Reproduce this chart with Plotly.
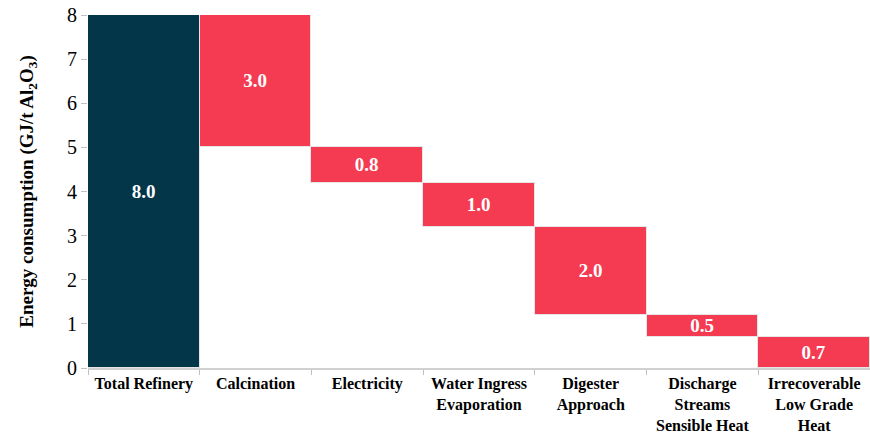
import plotly.graph_objects as go

categories = ["Total Refinery", "Calcination", "Electricity", "Water Ingress<br>Evaporation",
              "Digester<br>Approach", "Discharge<br>Streams<br>Sensible Heat",
              "Irrecoverable<br>Low Grade<br>Heat"]
values = [8.0, 3.0, 0.8, 1.0, 2.0, 0.5, 0.7]
y_ticks = [0, 1, 2, 3, 4, 5, 6, 7, 8]

total = values[0]
bases = [0]
running = total
for v in values[1:]:
    running -= v
    bases.append(round(running, 6))

colors = ["#04364a"] + ["#f43b52"] * (len(values) - 1)
SERIF = "Liberation Serif"

fig = go.Figure(go.Bar(
    x=categories, y=values, base=bases,
    marker=dict(color=colors, line=dict(color="#e6e6e6", width=1)),
    text=[f"{v:.1f}" for v in values],
    textposition="inside", insidetextanchor="middle",
    textfont=dict(family=SERIF, size=19, color="white", weight="bold"),
    cliponaxis=False,
))

fig.update_layout(
    width=870, height=439,
    margin=dict(l=88, r=0, t=15, b=71),
    plot_bgcolor="white", paper_bgcolor="white",
    bargap=0, showlegend=False,
    uniformtext=dict(minsize=19, mode="show"),
    font=dict(family=SERIF, color="black"),
)
fig.update_xaxes(
    showline=True, linecolor="#d0d0d0", linewidth=1.5,
    ticks="outside", tickson="boundaries", ticklen=5, tickcolor="#c0c0c0",
    tickfont=dict(family=SERIF, size=16, weight="bold"),
    showgrid=False,
)
fig.update_yaxes(
    range=[0, 8], tickvals=y_ticks, showgrid=False, zeroline=False,
    showline=False, ticks="outside", ticklen=6, tickcolor="#c0c0c0",
    tickfont=dict(family=SERIF, size=20),
    title=dict(text="Energy consumption (GJ/t Al<sub>2</sub>O<sub>3</sub>)",
               font=dict(family=SERIF, size=19, weight="bold"), standoff=28),
)

fig.write_html("out.html")
